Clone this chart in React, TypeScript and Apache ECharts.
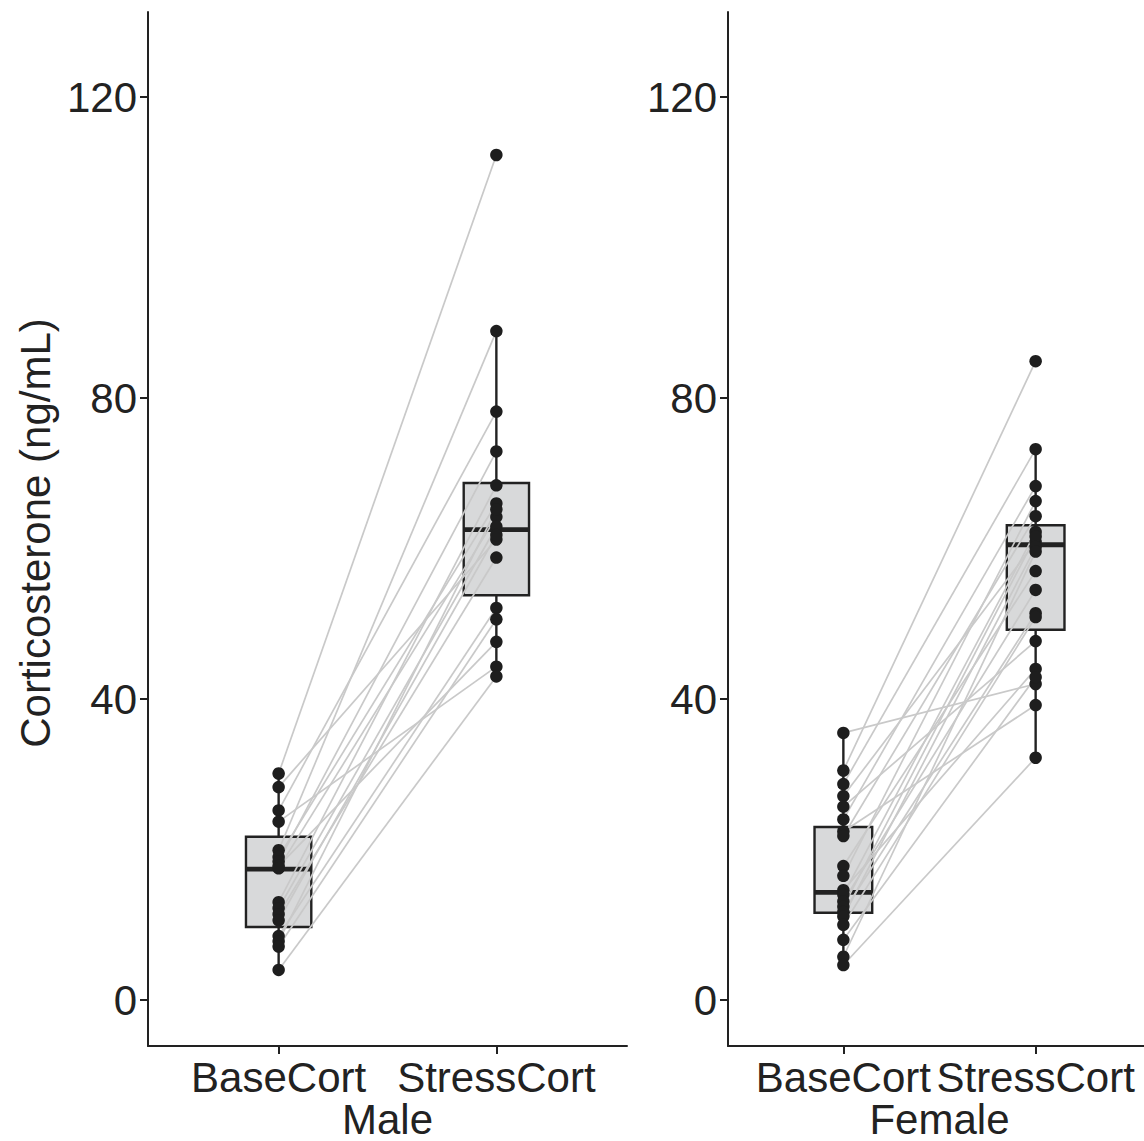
import React, { useEffect, useRef } from "react";
import * as echarts from "echarts";

const CATEGORIES = ["BaseCort", "StressCort"];
const PANELS = ["Male", "Female"];
const Y_TICKS = [0, 40, 80, 120];
const Y_TITLE = "Corticosterone (ng/mL)";

// paired values: index i of base pairs with index i of stress
const MALE_BASE = [30.1, 28.3, 25.2, 23.7, 19.9, 19.0, 18.4, 17.8, 17.5, 13.0, 12.2, 11.4, 10.6, 8.5, 7.8, 7.1, 4.0];
const MALE_STRESS = [112.3, 61.2, 78.2, 44.3, 88.9, 66.0, 72.9, 47.6, 64.2, 68.4, 62.9, 58.8, 61.8, 52.1, 65.2, 50.6, 43.0];
const FEMALE_BASE = [35.5, 30.5, 28.7, 27.1, 25.7, 24.0, 22.4, 21.8, 17.8, 16.5, 14.6, 14.0, 13.1, 12.4, 11.7, 11.1, 10.0, 8.0, 5.75, 4.65];
const FEMALE_STRESS = [42.0, 84.9, 73.2, 60.9, 47.7, 68.3, 39.2, 64.3, 57.0, 66.3, 44.0, 62.2, 54.5, 61.6, 51.4, 60.2, 50.9, 42.9, 59.6, 32.2];

// box stats: [lowerWhisker, q1, median, q3, upperWhisker]
const MALE_BASE_BOX = [4.0, 9.7, 17.4, 21.7, 30.1];
const MALE_STRESS_BOX = [43.0, 53.8, 62.5, 68.7, 88.9];
const FEMALE_BASE_BOX = [4.65, 11.6, 14.3, 23.0, 35.5];
const FEMALE_STRESS_BOX = [32.4, 49.2, 60.5, 63.1, 73.3];

const FONT = '"Liberation Sans", Arial, Helvetica, sans-serif';
const INK = "#222222";

function axesFor(i: number) {
  const xAxis = {
    type: "value",
    gridIndex: i,
    min: 0.4,
    max: 2.6,
    name: PANELS[i],
    nameLocation: "middle",
    nameGap: 52,
    nameMoveOverlap: false,
    nameTextStyle: { fontSize: 42, color: INK, fontFamily: FONT },
    axisLine: { show: true, onZero: false, lineStyle: { color: INK, width: 2 } },
    axisTick: { show: true, length: 8, lineStyle: { color: INK, width: 2 }, customValues: [1, 2] },
    axisLabel: {
      customValues: [1, 2],
      formatter: (v: number) => CATEGORIES[Math.round(v) - 1] ?? "",
      fontSize: 42,
      color: INK,
      fontFamily: FONT,
      margin: 10,
    },
    splitLine: { show: false },
  };
  const yAxis = {
    type: "value",
    gridIndex: i,
    min: -6.11,
    max: 131.3,
    axisLine: { show: true, onZero: false, lineStyle: { color: INK, width: 2 } },
    axisTick: { show: true, length: 8, lineStyle: { color: INK, width: 2 }, customValues: Y_TICKS },
    axisLabel: { customValues: Y_TICKS, fontSize: 42, color: INK, fontFamily: FONT, margin: 11 },
    splitLine: { show: false },
  };
  return { xAxis, yAxis };
}

function boxSeries(i: number, base: number[], stress: number[]) {
  return {
    type: "custom",
    xAxisIndex: i,
    yAxisIndex: i,
    z: 1,
    clip: false,
    encode: { x: 0, y: [1, 2, 3, 4, 5] },
    data: [
      [1, ...base],
      [2, ...stress],
    ],
    renderItem: (params: any, api: any) => {
      const x = api.value(0);
      const lo = api.coord([x, api.value(1)]);
      const q1 = api.coord([x, api.value(2)]);
      const med = api.coord([x, api.value(3)]);
      const q3 = api.coord([x, api.value(4)]);
      const hi = api.coord([x, api.value(5)]);
      const halfW = api.size([0.3, 0])[0] / 2;
      const cx = lo[0];
      const stroke = { stroke: INK, lineWidth: 2.4 };
      return {
        type: "group",
        children: [
          { type: "line", shape: { x1: cx, y1: hi[1], x2: cx, y2: q3[1] }, style: stroke },
          { type: "line", shape: { x1: cx, y1: q1[1], x2: cx, y2: lo[1] }, style: stroke },
          {
            type: "rect",
            shape: { x: cx - halfW, y: q3[1], width: halfW * 2, height: q1[1] - q3[1] },
            style: { fill: "#d8d9da", stroke: INK, lineWidth: 2.4 },
          },
          {
            type: "line",
            shape: { x1: cx - halfW, y1: med[1], x2: cx + halfW, y2: med[1] },
            style: { stroke: INK, lineWidth: 4.8 },
          },
        ],
      };
    },
  };
}

function pairSeries(i: number, base: number[], stress: number[]) {
  return {
    type: "lines",
    coordinateSystem: "cartesian2d",
    xAxisIndex: i,
    yAxisIndex: i,
    z: 2,
    lineStyle: { color: "#c9c9c9", width: 1.7, opacity: 1 },
    data: base.map((b, k) => ({ coords: [[1, b], [2, stress[k]]] })),
  };
}

function pointSeries(i: number, base: number[], stress: number[]) {
  return {
    type: "scatter",
    xAxisIndex: i,
    yAxisIndex: i,
    z: 3,
    symbolSize: 12.5,
    itemStyle: { color: "#1e1e1e", opacity: 1 },
    data: [...base.map((b) => [1, b]), ...stress.map((s) => [2, s])],
  };
}

export default function App() {
  const ref = useRef<HTMLDivElement>(null);
  useEffect(() => {
    if (!ref.current) return;
    const chart = echarts.init(ref.current, undefined, { renderer: "svg" });
    const a0 = axesFor(0);
    const a1 = axesFor(1);
    chart.setOption({
      animation: false,
      backgroundColor: "#ffffff",
      textStyle: { fontFamily: FONT },
      grid: [
        { left: 148, top: 12, width: 479, height: 1034, containLabel: false, outerBoundsMode: "none" },
        { left: 728, top: 12, width: 423, height: 1034, containLabel: false, outerBoundsMode: "none" },
      ],
      xAxis: [a0.xAxis, a1.xAxis],
      yAxis: [a0.yAxis, a1.yAxis],
      graphic: [
        {
          type: "text",
          x: 35,
          y: 533,
          rotation: Math.PI / 2,
          style: {
            text: Y_TITLE,
            fontSize: 42,
            fill: INK,
            fontFamily: FONT,
            textAlign: "center",
            textVerticalAlign: "middle",
          },
        },
      ],
      series: [
        boxSeries(0, MALE_BASE_BOX, MALE_STRESS_BOX),
        pairSeries(0, MALE_BASE, MALE_STRESS),
        pointSeries(0, MALE_BASE, MALE_STRESS),
        boxSeries(1, FEMALE_BASE_BOX, FEMALE_STRESS_BOX),
        pairSeries(1, FEMALE_BASE, FEMALE_STRESS),
        pointSeries(1, FEMALE_BASE, FEMALE_STRESS),
      ],
    });
    return () => chart.dispose();
  }, []);
  return (
    <div
      ref={ref}
      style={{ position: "fixed", left: 0, top: 0, width: 1144, height: 1141, background: "#fff" }}
    />
  );
}
